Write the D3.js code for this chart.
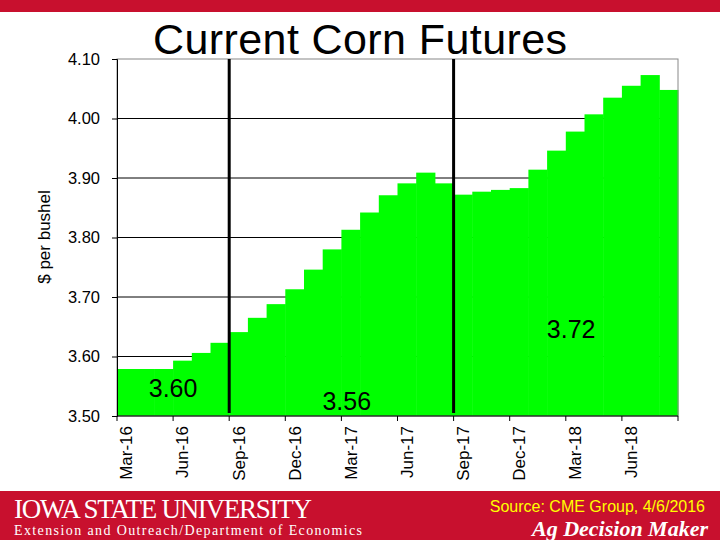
<!DOCTYPE html>
<html><head><meta charset="utf-8">
<script src="https://cdn.jsdelivr.net/npm/d3@7"></script>
<style>body{margin:0;background:#fff}svg{display:block}</style>
</head><body>
<svg id="c" width="720" height="540"></svg>
<script>
const months = ["Mar-16","Apr-16","May-16","Jun-16","Jul-16","Aug-16","Sep-16","Oct-16","Nov-16","Dec-16",
"Jan-17","Feb-17","Mar-17","Apr-17","May-17","Jun-17","Jul-17","Aug-17","Sep-17","Oct-17","Nov-17","Dec-17",
"Jan-18","Feb-18","Mar-18","Apr-18","May-18","Jun-18","Jul-18","Aug-18"];
const prices = [3.579,3.579,3.579,3.593,3.606,3.623,3.641,3.665,3.688,3.713,
3.746,3.780,3.813,3.842,3.871,3.891,3.909,3.891,3.872,3.877,3.880,3.883,
3.914,3.946,3.978,4.007,4.035,4.055,4.073,4.048];
const tickLabels = ["Mar-16","Jun-16","Sep-16","Dec-16","Mar-17","Jun-17","Sep-17","Dec-17","Mar-18","Jun-18"];
const yTicks = [3.50,3.60,3.70,3.80,3.90,4.00,4.10];
const markers = ["Sep-16","Sep-17"];
const noteMonths = ["Jun-16","Mar-17","Mar-18"];
const noteValues = [3.532,3.510,3.631];
const noteTexts = ["3.60","3.56","3.72"];

const svg = d3.select("#c");
const L=117,R=678,T=59,B=416;
const x = d3.scaleBand().domain(months).range([L,R]).padding(0);
const y = d3.scaleLinear().domain([3.5,4.1]).range([B,T]);
const F="Liberation Sans, Arial";

svg.append("rect").attr("x",0).attr("y",0).attr("width",720).attr("height",12).attr("fill","#c8102e");
svg.append("text").attr("x",360).attr("y",54).attr("text-anchor","middle")
  .attr("font-family",F).attr("font-size",43).attr("textLength",414).text("Current Corn Futures");

svg.selectAll(".g").data(yTicks.slice(1,-1)).join("line")
  .attr("x1",L).attr("x2",R).attr("y1",d=>y(d)).attr("y2",d=>y(d)).attr("stroke","#000");
svg.selectAll(".b").data(months).join("rect")
  .attr("x",d=>x(d)).attr("width",x.bandwidth()+0.5)
  .attr("y",(d,i)=>y(prices[i])).attr("height",(d,i)=>B-y(prices[i])).attr("fill","#00ff00");
svg.append("rect").attr("x",L).attr("y",T).attr("width",R-L).attr("height",B-T)
  .attr("fill","none").attr("stroke","#888");
svg.selectAll(".m").data(markers).join("line")
  .attr("x1",d=>x(d)).attr("x2",d=>x(d)).attr("y1",T).attr("y2",B-3).attr("stroke","#000").attr("stroke-width",3);

const ya = svg.append("g").attr("transform",`translate(${L},0)`)
  .call(d3.axisLeft(y).tickValues(yTicks).tickFormat(d3.format(".2f")).tickSize(5).tickPadding(12));
ya.select(".domain").attr("stroke","#000");
ya.selectAll("text").attr("font-family",F).attr("font-size",16.5).attr("fill","#000");

const xa = svg.append("g").attr("transform",`translate(0,${B})`);
xa.append("line").attr("x1",L).attr("x2",R).attr("stroke","#000");
const tickMonths = months.filter((m,i)=>i%3===0);
xa.selectAll(".t").data(tickMonths.concat(["end"])).join("line")
  .attr("x1",d=>d==="end"?R:x(d)).attr("x2",d=>d==="end"?R:x(d)).attr("y1",0).attr("y2",5).attr("stroke","#000");
xa.selectAll(".l").data(tickLabels).join("text")
  .attr("transform",d=>`translate(${x(d)+x.bandwidth()/2+6},10) rotate(-90)`)
  .attr("text-anchor","end").attr("font-family",F).attr("font-size",17).text(d=>d);

svg.append("text").attr("transform","translate(50,237) rotate(-90)").attr("text-anchor","middle")
  .attr("font-family",F).attr("font-size",17).text("$ per bushel");

svg.selectAll(".n").data(noteTexts).join("text")
  .attr("x",(d,i)=>x(noteMonths[i])+(i===0?0:x.bandwidth()/2-4)).attr("y",(d,i)=>y(noteValues[i])).attr("text-anchor","middle")
  .attr("font-family",F).attr("font-size",25).text(d=>d);

svg.append("rect").attr("x",0).attr("y",491).attr("width",720).attr("height",49).attr("fill","#c8102e");
svg.append("text").attr("x",14).attr("y",518).attr("fill","#fff").attr("font-family","Liberation Serif, Times New Roman")
  .attr("font-size",27).attr("textLength",298).text("IOWA STATE UNIVERSITY");
svg.append("text").attr("x",14).attr("y",535).attr("fill","#fff").attr("font-family","Liberation Serif, Times New Roman")
  .attr("font-size",14).attr("textLength",348).text("Extension and Outreach/Department of Economics");
svg.append("text").attr("x",705).attr("y",512).attr("text-anchor","end").attr("fill","#ffff00")
  .attr("font-family",F).attr("font-size",16).text("Source: CME Group, 4/6/2016");
svg.append("text").attr("x",708).attr("y",536).attr("text-anchor","end").attr("fill","#fff")
  .attr("font-family","Liberation Serif, Times New Roman").attr("font-style","italic").attr("font-weight","bold")
  .attr("font-size",22).text("Ag Decision Maker");
</script>
</body></html>
